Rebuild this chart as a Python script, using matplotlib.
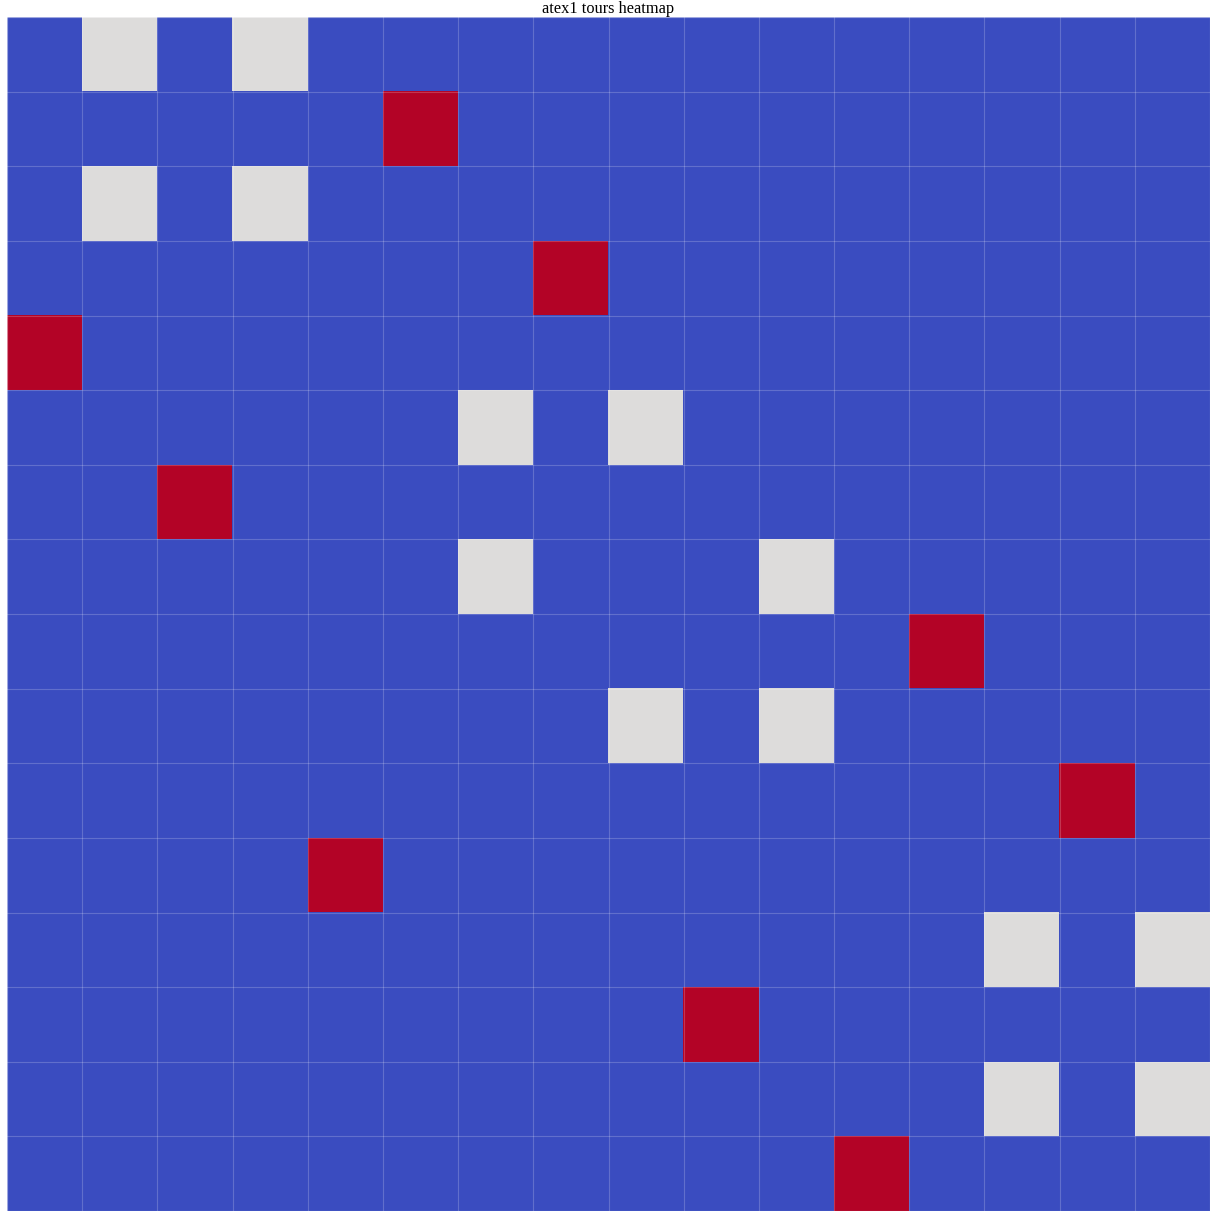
import numpy as np
import matplotlib
matplotlib.use('Agg')
import matplotlib.pyplot as plt

plt.rcParams['font.family'] = ['Liberation Serif', 'DejaVu Serif']

n_cells = 16
# (row, col) of cells with value 1.0 (red) and 0.5 (grey)
red_cells = [(1, 5), (3, 7), (4, 0), (6, 2), (8, 12), (10, 14),
             (11, 4), (13, 9), (15, 11)]
grey_cells = [(0, 1), (0, 3), (2, 1), (2, 3), (5, 6), (5, 8),
              (7, 6), (7, 10), (9, 8), (9, 10), (12, 13), (12, 15),
              (14, 13), (14, 15)]

grid = np.zeros((n_cells, n_cells))
for r, c in grey_cells:
    grid[r, c] = 0.5
for r, c in red_cells:
    grid[r, c] = 1.0

fig = plt.figure(figsize=(12.18, 12.18), dpi=100)
ax = fig.add_axes([7 / 1218, 7 / 1218, 1203 / 1218, 1194 / 1218])
ax.imshow(grid, cmap='coolwarm', vmin=0, vmax=1, aspect='auto',
          extent=(0, n_cells, n_cells, 0), interpolation='nearest')
ax.set_xticks(np.arange(n_cells + 1))
ax.set_yticks(np.arange(n_cells + 1))
ax.grid(True, color='white', alpha=0.2, linewidth=0.8)
ax.tick_params(length=0, labelbottom=False, labelleft=False)
for s in ax.spines.values():
    s.set_color('white')
    s.set_alpha(0.4)
ax.set_title('atex1 tours heatmap', fontsize=11.8, pad=2)

fig.savefig('out.png', dpi=100)
